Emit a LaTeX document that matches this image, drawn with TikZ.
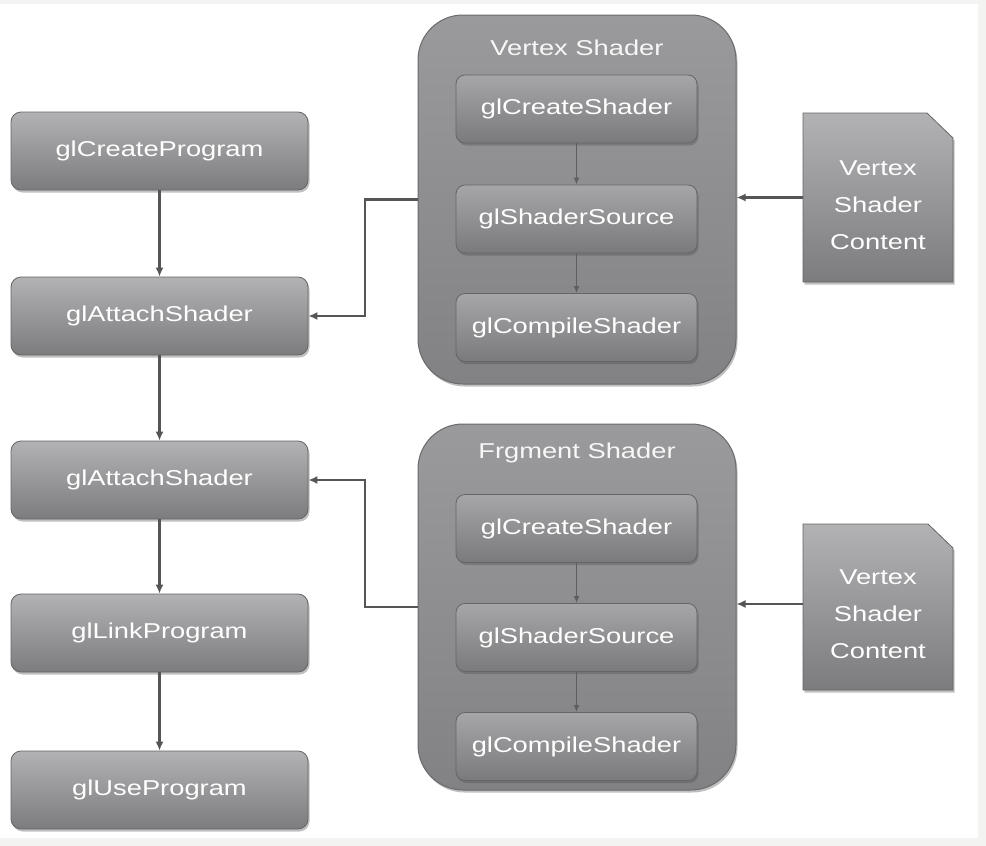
\documentclass[tikz,border=0pt]{standalone}
\usepackage{fontspec}
\newfontfamily\labfont[FakeStretch=1.27]{Liberation Sans}
\usetikzlibrary{arrows.meta,shadows,calc}
\definecolor{bgframe}{HTML}{F3F3F1}
\definecolor{boxtop}{HTML}{B2B2B4}
\definecolor{boxbot}{HTML}{7C7C7E}
\definecolor{boxedge}{HTML}{656567}
\definecolor{conttop}{HTML}{9A9A9C}
\definecolor{contbot}{HTML}{828284}
\definecolor{contedge}{HTML}{6A6A6C}
\definecolor{inntop}{HTML}{A6A6A8}
\definecolor{innbot}{HTML}{7A7A7C}
\definecolor{wire}{HTML}{555557}
\definecolor{wirelight}{HTML}{5E5E60}
\tikzset{
  boxshadow/.style={drop shadow={shadow xshift=1.5pt,shadow yshift=-2.5pt,opacity=0.35,fill=black!70}},
  lbl/.style={text=white,font=\labfont\fontsize{21.5}{24}\selectfont},
  leftbox/.style={lbl,rectangle,rounded corners=10pt,minimum width=297pt,minimum height=78pt,
    top color=boxtop,bottom color=boxbot,draw=boxedge,line width=0.8pt,boxshadow},
  container/.style={rectangle,rounded corners=45pt,minimum width=318pt,
    top color=conttop,bottom color=contbot,draw=contedge,line width=1pt,boxshadow},
  innerbox/.style={lbl,rectangle,rounded corners=9pt,minimum width=241pt,minimum height=68pt,
    top color=inntop,bottom color=innbot,draw=boxedge,line width=0.8pt,boxshadow},
  titletext/.style={lbl,text=white!94!gray},
  docshape/.style={top color=boxtop,bottom color=boxbot,draw=boxedge,line width=0.8pt,boxshadow},
  docarea/.style={rectangle,minimum width=150pt,inner sep=0pt},
  doctext/.style={text=white,font=\labfont\fontsize{21.5}{37}\selectfont,align=center,inner sep=0pt},
  wirearrow/.style={draw=wire,line width=2.6pt,-{Latex[length=9pt,width=8pt]}},
  thinarrow/.style={draw=wirelight,line width=1.8pt,-{Latex[length=7pt,width=6pt]}},
}
\begin{document}
\begin{tikzpicture}[x=1pt,y=-1pt]
\useasboundingbox (0,0) rectangle (986,846);
\fill[bgframe] (0,0) rectangle (986,846);
\fill[white] (0,4) rectangle (978,838);

% left column
\node[leftbox] (cp) at (159.5,151) {glCreateProgram};
\node[leftbox] (as1) at (159.5,316) {glAttachShader};
\node[leftbox] (as2) at (159.5,480) {glAttachShader};
\node[leftbox] (lp) at (159.5,633) {glLinkProgram};
\node[leftbox] (up) at (159.5,790) {glUseProgram};

% vertex shader container
\node[container,minimum height=369pt] (vs) at (577,199.5) {};
\node[titletext] (vst) at (577,48) {Vertex Shader};
\node[innerbox] (vcs) at (576.5,109) {glCreateShader};
\node[innerbox] (vss) at (576.5,219) {glShaderSource};
\node[innerbox] (vcc) at (576.5,327.5) {glCompileShader};

% fragment shader container
\node[container,minimum height=366pt] (fs) at (577,607) {};
\node[titletext] (fst) at (577,453) {Frgment Shader};
\node[innerbox] (fcs) at (576.5,528.5) {glCreateShader};
\node[innerbox] (fss) at (576.5,637.5) {glShaderSource};
\node[innerbox] (fcc) at (576.5,746.5) {glCompileShader};

% content documents (folded corner sheets)
\path[docshape] (803,113) -- (927,113) -- (953,138) -- (953,282) -- (803,282) -- cycle;
\node[docarea,minimum height=169pt] (c1) at (878,197.5) {};
\node[doctext] (c1t) at (878,205) {Vertex\\Shader\\Content};
\path[docshape] (803,524) -- (928,524) -- (953,548) -- (953,690) -- (803,690) -- cycle;
\node[docarea,minimum height=166pt] (c2) at (878,604) {};
\node[doctext] (c2t) at (878,614) {Vertex\\Shader\\Content};

% junction coordinates
\coordinate (jx) at (365,0);

% connectors
\draw[wirearrow] (cp.south) -- (as1.north);
\draw[wirearrow] (as1.south) -- (as2.north);
\draw[wirearrow] (as2.south) -- (lp.north);
\draw[wirearrow] (lp.south) -- (up.north);

\draw[wirearrow] (vs.west) -- (vs.west -| jx) |- (as1.east);
\draw[wirearrow] (fs.west) -- (fs.west -| jx) |- (as2.east);

\draw[wirearrow] (c1.west) -- (c1.west -| vs.east);
\draw[wirearrow] (c2.west) -- (c2.west -| fs.east);

\draw[thinarrow] (vcs.south) -- (vss.north);
\draw[thinarrow] (vss.south) -- (vcc.north);
\draw[thinarrow] (fcs.south) -- (fss.north);
\draw[thinarrow] (fss.south) -- (fcc.north);
\end{tikzpicture}
\end{document}
